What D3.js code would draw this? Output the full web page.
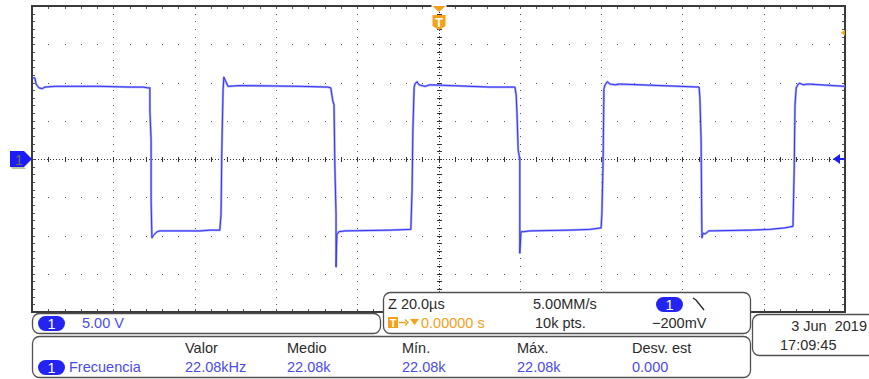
<!DOCTYPE html>
<html>
<head>
<meta charset="utf-8">
<script src="https://cdn.jsdelivr.net/npm/d3@7"></script>
<style>
  html, body { margin: 0; padding: 0; background: #fff; }
  svg { display: block; }
  text { font-family: "Liberation Sans", Arial, sans-serif; }
</style>
</head>
<body>
<svg id="scope" width="869" height="379"></svg>
<script>
// Channel 1 capture: time in microseconds, voltage in volts (breakpoints of the trace)
const timeUs = [-99.8,-99.3,-99.0,-98.3,-97.5,-96.8,-94.3,-83.3,-75.9,-72.7,-71.5,-71.0,-71.0,-70.7,-70.7,-70.5,-70.0,-69.2,-68.5,-58.6,-56.2,-53.8,-53.5,-53.3,-53.0,-52.8,-52.3,-51.8,-48.8,-34.1,-27.2,-26.5,-26.0,-25.7,-25.5,-25.2,-25.2,-25.0,-24.5,-23.0,-11.9,-6.8,-6.5,-6.3,-6.0,-5.8,-5.3,-4.8,-3.3,-2.1,12.7,18.8,19.1,19.3,19.6,20.0,20.0,20.3,21.0,22.5,32.3,37.3,40.0,40.2,40.5,40.7,41.0,41.5,42.2,43.5,44.6,59.4,64.1,64.3,64.6,64.8,65.1,65.6,66.5,76.6,81.5,85.2,87.2,87.5,87.7,88.0,88.5,88.9,89.7,90.9,100.0];
const volts  = [10.6,10.6,9.8,9.3,9.2,9.4,9.5,9.5,9.4,9.4,9.3,9.3,6.4,2.5,-5.4,-10.3,-9.9,-9.5,-9.4,-9.4,-9.3,-9.3,-7.3,1.2,9.0,10.7,10.1,9.5,9.6,9.5,9.4,9.3,7.6,7.1,-0.8,-7.3,-14.1,-9.9,-9.5,-9.4,-9.3,-9.2,-4.1,3.8,9.3,9.8,10.1,9.7,9.5,9.7,9.4,9.4,8.4,6.1,1.2,-0.1,-12.3,-9.5,-9.5,-9.4,-9.3,-9.2,-9.0,-7.1,-0.1,9.2,9.7,10.1,9.8,9.7,9.8,9.5,9.4,8.0,2.5,-10.3,-9.7,-9.8,-9.4,-9.3,-9.2,-9.0,-8.8,-1.4,7.1,9.3,9.8,9.9,9.7,9.8,9.5];

// Display settings
const timeDomain = [-100, 100];   // 20 µs/div, 10 divisions
const voltDomain = [-20, 20];     // 5 V/div, 8 divisions
const timeMajor = 20, timeMinor = 4;
const voltMajor = 5, voltMinor = 1;

// Readout texts
const channelScale = "5.00 V";
const timebaseRow1 = ["Z 20.0µs", "5.00MM/s"];
const timebaseRow2 = ["0.00000 s", "10k pts.", "\u2212200mV"];
const measHeaders = ["Valor", "Medio", "Mín.", "Máx.", "Desv. est"];
const measValues  = ["22.08kHz", "22.08k", "22.08k", "22.08k", "0.000"];
const measName = "Frecuencia";
const dateText = "3 Jun  2019";
const timeText = "17:09:45";

const BLUE = "#2323f2", TEXTBLUE = "#4b4bec", ORANGE = "#f6a01a", DARK = "#2b2b2b", FRAME = "#505050";

const svg = d3.select("#scope");
const x = d3.scaleLinear().domain(timeDomain).range([32, 845]);
const y = d3.scaleLinear().domain(voltDomain).range([312, 6]);
const L = x.range()[0], R = x.range()[1], T = y.range()[1], B = y.range()[0];
const cx = x(0), cy = y(0);

const minorT = d3.range(timeDomain[0], timeDomain[1] + 0.01, timeMinor);
const majorT = d3.range(timeDomain[0], timeDomain[1] + 0.01, timeMajor);
const minorV = d3.range(voltDomain[0], voltDomain[1] + 0.01, voltMinor);
const majorV = d3.range(voltDomain[0], voltDomain[1] + 0.01, voltMajor);
const inner = (arr, d) => arr.filter(v => v > d[0] && v < d[1]);

const grid = svg.append("g").attr("shape-rendering", "crispEdges").attr("fill", "#555");

// dotted graticule on major verticals
inner(majorT, timeDomain).filter(t => t !== 0).forEach(t => {
  grid.selectAll(null).data(inner(minorV, voltDomain)).enter().append("rect")
    .attr("x", Math.round(x(t))).attr("y", v => Math.round(y(v))).attr("width", 1).attr("height", 1);
});
// dotted graticule on major horizontals
inner(majorV, voltDomain).filter(v => v !== 0).forEach(v => {
  grid.selectAll(null).data(inner(minorT, timeDomain)).enter().append("rect")
    .attr("x", t => Math.round(x(t))).attr("y", Math.round(y(v))).attr("width", 1).attr("height", 1);
});

// center cross-hair with tick marks
const cross = svg.append("g").attr("stroke", "#333").attr("shape-rendering", "crispEdges");
cross.append("line").attr("x1", L).attr("x2", R).attr("y1", Math.round(cy) + 0.5).attr("y2", Math.round(cy) + 0.5)
  .attr("stroke-dasharray", "1,2");
cross.append("line").attr("y1", T).attr("y2", B).attr("x1", Math.round(cx) + 0.5).attr("x2", Math.round(cx) + 0.5)
  .attr("stroke-dasharray", "1,2");
cross.selectAll(null).data(inner(minorT, timeDomain)).enter().append("line")
  .attr("x1", t => Math.round(x(t)) + 0.5).attr("x2", t => Math.round(x(t)) + 0.5)
  .attr("y1", Math.round(cy) - 2).attr("y2", Math.round(cy) + 3);
cross.selectAll(null).data(inner(minorV, voltDomain)).enter().append("line")
  .attr("y1", v => Math.round(y(v)) + 0.5).attr("y2", v => Math.round(y(v)) + 0.5)
  .attr("x1", Math.round(cx) - 2).attr("x2", Math.round(cx) + 3);

// frame ticks
const ft = svg.append("g").attr("stroke", "#555").attr("shape-rendering", "crispEdges");
inner(minorT, timeDomain).forEach(t => {
  const px = Math.round(x(t)) + 0.5;
  ft.append("line").attr("x1", px).attr("x2", px).attr("y1", T).attr("y2", T + 3);
  ft.append("line").attr("x1", px).attr("x2", px).attr("y1", B).attr("y2", B - 3);
});
inner(minorV, voltDomain).forEach(v => {
  const py = Math.round(y(v)) + 0.5;
  ft.append("line").attr("y1", py).attr("y2", py).attr("x1", L).attr("x2", L + 3);
  ft.append("line").attr("y1", py).attr("y2", py).attr("x1", R).attr("x2", R - 3);
});

// frame
svg.append("rect").attr("x", L).attr("y", T).attr("width", R - L).attr("height", B - T)
  .attr("fill", "none").attr("stroke", "#3a3a3a").attr("stroke-width", 2).attr("shape-rendering", "crispEdges");

// trace
const line = d3.line().x((d, i) => x(timeUs[i])).y((d, i) => y(volts[i]));
const tr = svg.append("g");
tr.append("path").datum(timeUs).attr("d", line).attr("fill", "none")
  .attr("stroke", "#a4a4fc").attr("stroke-width", 2.3).attr("stroke-linejoin", "round");
tr.append("path").datum(timeUs).attr("d", line).attr("fill", "none")
  .attr("stroke", "#3535f4").attr("stroke-width", 1.0).attr("stroke-linejoin", "round");

// trigger position marker (top)
svg.append("rect").attr("x", cx - 7).attr("y", T - 1).attr("width", 15).attr("height", 3).attr("fill", "#fff");
svg.append("path").attr("d", `M${cx - 6},${T} L${cx + 7},${T} L${cx + 0.5},${T + 6} Z`).attr("fill", ORANGE);
svg.append("path").attr("d", `M${cx - 6},${T + 9} h13 v11 l-6.5,4 l-6.5,-4 Z`).attr("fill", ORANGE);
svg.append("text").attr("x", cx + 0.5).attr("y", T + 21).attr("text-anchor", "middle")
  .attr("font-size", 13).attr("font-weight", "bold").attr("fill", "#fff").text("T");

// trigger level marker (right)
svg.append("path").attr("d", `M${R - 4},${y(16.5)} l4,-3 v6 Z`).attr("fill", ORANGE);

// channel ground markers
svg.append("path").attr("d", `M10,${cy - 8} h14 l8,8 l-8,8 h-14 Z`).attr("fill", "#1c1cf6");
svg.append("path").attr("d", `M11,${cy + 8} h13 l2,2 h-14 Z`).attr("fill", "#9a9a5a").attr("opacity", 0.6);
svg.append("text").attr("x", 19).attr("y", cy + 6).attr("text-anchor", "middle")
  .attr("font-size", 15).attr("fill", "#6b6b62").text("1");
svg.append("path").attr("d", `M${R - 12},${cy} l7,-5 v10 Z`).attr("fill", "#1c1cf6");
svg.append("line").attr("x1", R - 6).attr("x2", R).attr("y1", cy).attr("y2", cy).attr("stroke", "#1c1cf6").attr("stroke-width", 2);

// readout panels
function panel(x0, y0, w, h) {
  svg.append("rect").attr("x", x0 + 0.5).attr("y", y0 + 0.5).attr("width", w).attr("height", h)
    .attr("rx", 7).attr("ry", 7).attr("fill", "#fff").attr("stroke", FRAME).attr("stroke-width", 1.3);
}
function pill(x0, y0) {
  svg.append("rect").attr("x", x0).attr("y", y0).attr("width", 27).attr("height", 15).attr("rx", 7.5)
    .attr("fill", BLUE);
  svg.append("text").attr("x", x0 + 13.5).attr("y", y0 + 12.5).attr("text-anchor", "middle")
    .attr("font-size", 14.5).attr("fill", "#fff").text("1");
}
function label(xp, yp, s, color, anchor) {
  return svg.append("text").attr("x", xp).attr("y", yp).attr("font-size", 14.5)
    .attr("fill", color).attr("text-anchor", anchor || "start").text(s);
}

// channel scale panel
panel(32, 313, 348, 20);
pill(38, 316);
label(82, 328, channelScale, TEXTBLUE);

// timebase / trigger panel
panel(383, 292, 367, 41);
label(388, 309, timebaseRow1[0], DARK);
label(533, 309, timebaseRow1[1], DARK);
pill(656, 297);
svg.append("path").attr("d", "M693,298 L696,300 L704,310").attr("fill", "none").attr("stroke", DARK).attr("stroke-width", 1.4);
svg.append("rect").attr("x", 388).attr("y", 317).attr("width", 10).attr("height", 11).attr("fill", ORANGE);
svg.append("text").attr("x", 393).attr("y", 327).attr("text-anchor", "middle").attr("font-size", 11)
  .attr("font-weight", "bold").attr("fill", "#fff").text("T");
svg.append("path").attr("d", "M399,322.5 h7").attr("stroke", ORANGE).attr("stroke-width", 1.5);
svg.append("path").attr("d", "M405,319.5 l3,3 l-3,3").attr("fill", "none").attr("stroke", ORANGE).attr("stroke-width", 1.3);
svg.append("path").attr("d", "M410,319 h9 l-4.5,6 Z").attr("fill", ORANGE);
label(421, 328, timebaseRow2[0], ORANGE);
label(535, 328, timebaseRow2[1], DARK);
label(652, 328, timebaseRow2[2], DARK);

// measurement panel
panel(32, 336, 718, 41);
const measX = [185, 287, 402, 517, 632];
measHeaders.forEach((h, i) => label(measX[i], 353, h, DARK));
measValues.forEach((v, i) => label(measX[i], 372, v, TEXTBLUE));
pill(38, 360);
label(69, 372, measName, TEXTBLUE);

// date panel
panel(752, 314, 130, 41);
label(867, 331, dateText, DARK, "end").attr("xml:space", "preserve").style("white-space", "pre");
label(780, 350, timeText, DARK);
</script>
</body>
</html>
